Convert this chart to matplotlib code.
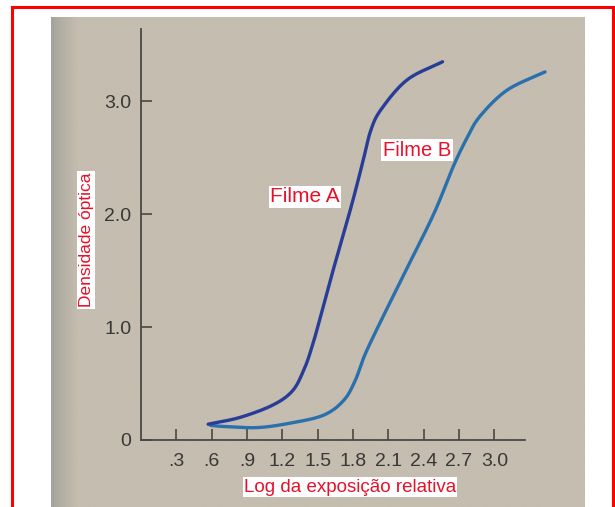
import numpy as np
import matplotlib
matplotlib.use("Agg")
import matplotlib.pyplot as plt
from matplotlib.patches import Rectangle
from matplotlib.colors import to_rgb

# Characteristic (H&D) curves of two films
film_a_log_e = [0.57, 0.84, 1.12, 1.29, 1.39, 1.45, 1.50, 1.63, 1.78, 1.88, 1.95, 2.04, 2.26, 2.56]
film_a_density = [0.14, 0.20, 0.31, 0.44, 0.64, 0.82, 1.00, 1.50, 2.05, 2.45, 2.74, 2.93, 3.19, 3.35]

film_b_log_e = [0.59, 0.70, 0.99, 1.27, 1.55, 1.72, 1.82, 1.92, 2.20, 2.48, 2.65, 2.77, 2.88, 3.11, 3.43]
film_b_density = [0.13, 0.12, 0.11, 0.15, 0.22, 0.35, 0.53, 0.80, 1.40, 1.99, 2.42, 2.68, 2.87, 3.10, 3.26]

x_ticks = [0.3, 0.6, 0.9, 1.2, 1.5, 1.8, 2.1, 2.4, 2.7, 3.0]
x_tick_labels = [".3", ".6", ".9", "1.2", "1.5", "1.8", "2.1", "2.4", "2.7", "3.0"]
y_ticks = [0, 1.0, 2.0, 3.0]
y_tick_labels = ["0", "1.0", "2.0", "3.0"]

W, H = 615, 507
fig = plt.figure(figsize=(W / 100, H / 100), dpi=100)
fig.patch.set_facecolor("white")


def fx(px):
    return px / W


def fy(py):
    return 1 - py / H


# paper background with a darker shading at its left edge
bg = fig.add_axes([fx(51), 0, fx(585) - fx(51), fy(17)])
bg.set_axis_off()
cols = 200
t = np.linspace(0, 1, cols)
paper = np.array(to_rgb("#c5bdaf"))
edge = np.array(to_rgb("#a4a49c"))
w = np.clip(t / 0.05, 0, 1) ** 0.8
grad = edge[None, :] * (1 - w[:, None]) + paper[None, :] * w[:, None]
img = np.repeat(grad[None, :, :], 10, axis=0)
bg.imshow(img, aspect="auto", extent=[0, 1, 0, 1], interpolation="bilinear")
bg.set_xlim(0, 1)
bg.set_ylim(0, 1)

# red frame
fig.patches.append(Rectangle((fx(12), fy(540)), fx(613) - fx(12), fy(7) - fy(540),
                             transform=fig.transFigure, fill=False,
                             edgecolor="#ff0000", linewidth=2.2, zorder=10))

ax = fig.add_axes([fx(141), fy(440), fx(525) - fx(141), fy(29) - fy(440)])
ax.set_facecolor("none")
ax.set_xlim(0, 3.26)
ax.set_ylim(0, 3.64)

for s in ["top", "right"]:
    ax.spines[s].set_visible(False)
for s in ["left", "bottom"]:
    ax.spines[s].set_color("#4a4844")
    ax.spines[s].set_linewidth(1.3)

tick_font = ["Liberation Sans", "DejaVu Sans"]
ax.set_xticks(x_ticks)
ax.set_xticklabels(x_tick_labels)
ax.set_yticks(y_ticks)
ax.set_yticklabels(y_tick_labels)
ax.tick_params(axis="both", direction="in", length=8, width=1.2, color="#4a4844",
               labelcolor="#3a3835", labelsize=14)
ax.tick_params(axis="x", pad=9)
ax.tick_params(axis="y", pad=7)
for lab in ax.get_xticklabels() + ax.get_yticklabels():
    lab.set_family(tick_font)


def smooth(xs, ys):
    xs = np.asarray(xs, float)
    ys = np.asarray(ys, float)
    # Catmull-Rom through the points
    pts = np.column_stack([xs, ys])
    p = np.vstack([pts[0] - (pts[1] - pts[0]), pts, pts[-1] + (pts[-1] - pts[-2])])
    out = []
    for i in range(1, len(p) - 2):
        p0, p1, p2, p3 = p[i - 1], p[i], p[i + 1], p[i + 2]
        tt = np.linspace(0, 1, 20, endpoint=False)[:, None]
        seg = 0.5 * ((2 * p1) + (-p0 + p2) * tt + (2 * p0 - 5 * p1 + 4 * p2 - p3) * tt ** 2
                     + (-p0 + 3 * p1 - 3 * p2 + p3) * tt ** 3)
        out.append(seg)
    out.append(pts[-1:])
    out = np.vstack(out)
    return out[:, 0], out[:, 1]


bx, by = smooth(film_b_log_e, film_b_density)
ax.plot(bx, by, color="#2a70ad", lw=2.4, solid_capstyle="round", clip_on=False, zorder=3)
axx, ayy = smooth(film_a_log_e, film_a_density)
ax.plot(axx, ayy, color="#283d97", lw=2.4, solid_capstyle="round", clip_on=False, zorder=4)

red = "#e8102a"
box = dict(facecolor="white", edgecolor="none", pad=1.0)
lab_font = ["Liberation Sans", "DejaVu Sans"]
fig.text(fx(305), fy(197), "Filme A", color=red, fontsize=15, ha="center", va="center",
         family=lab_font, bbox=box, zorder=11)
fig.text(fx(417), fy(150), "Filme B", color=red, fontsize=14.5, ha="center", va="center",
         family=lab_font, bbox=box, zorder=11)
fig.text(fx(350), fy(487), "Log da exposição relativa", color=red, fontsize=13.5,
         ha="center", va="center", family=lab_font, bbox=box, zorder=11)
fig.text(fx(86), fy(240), "Densidade óptica", color=red, fontsize=12.5, rotation=90,
         ha="center", va="center", family=lab_font, bbox=box, zorder=11)

fig.savefig("out.png", dpi=100, facecolor="white")
